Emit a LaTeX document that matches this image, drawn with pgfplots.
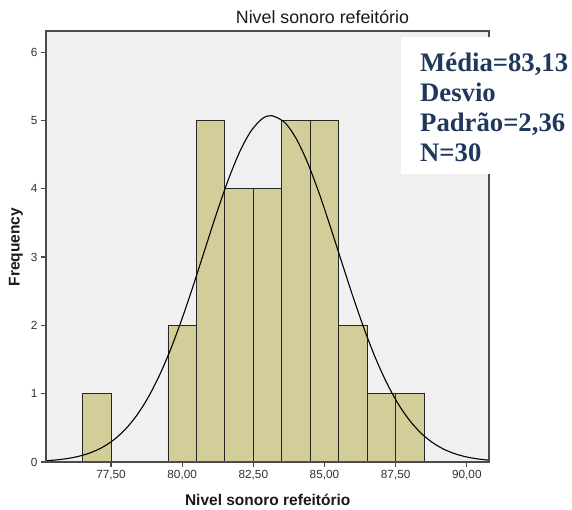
\documentclass[border=0pt]{standalone}
\usepackage{pgfplots}
\pgfplotsset{compat=1.18}
\usepackage{fontspec}
\setmainfont{Liberation Sans}
\newfontfamily\serifb{Liberation Serif}
\definecolor{barfill}{RGB}{211,206,153}
\definecolor{bg}{RGB}{240,240,240}
\definecolor{axisgray}{RGB}{75,75,75}
\definecolor{ticktext}{RGB}{50,50,50}
\definecolor{navy}{RGB}{31,56,92}
\begin{document}
\begin{tikzpicture}
\path[use as bounding box] (0,0) rectangle (572pt,510pt);
\begin{axis}[
  at={(46pt,48pt)}, anchor=south west,
  width=443pt, height=431pt, scale only axis,
  xmin=75.215, xmax=90.78, ymin=0, ymax=6.31,
  axis background/.style={fill=bg},
  axis on top,
  axis line style={axisgray, line width=1.3pt},
  xtick={77.5,80,82.5,85,87.5,90},
  ytick={0,1,2,3,4,5,6},
  tick align=outside, tick pos=left,
  major tick length=5pt,
  tick style={axisgray, line width=1.3pt},
  /pgf/number format/assume math mode=true,
  tick label style={font=\fontsize{11.8}{12}\selectfont, text=ticktext},
  xticklabel style={/pgf/number format/.cd, fixed, fixed zerofill, precision=2, use comma},
  yticklabel style={/pgf/number format/.cd, fixed, precision=0},
]
\addplot[ybar interval, fill=barfill, draw=black!85, line width=0.8pt]
  coordinates {(76.5,1)(77.5,1)};
\addplot[ybar interval, fill=barfill, draw=black!85, line width=0.8pt]
  coordinates {(79.5,2)(80.5,5)(81.5,4)(82.5,4)(83.5,5)(84.5,5)(85.5,2)(86.5,1)(87.5,1)(88.5,1)};
\addplot[black, line width=1.1pt, smooth] coordinates {
(75.2,0.01792)(75.6,0.03122)(76.0,0.05285)(76.4,0.08694)(76.8,0.13897)
(77.2,0.21582)(77.6,0.32574)(78.0,0.47763)(78.4,0.68052)(78.8,0.94225)
(79.2,1.2676)(79.6,1.6568)(80.0,2.1045)(80.4,2.5975)(80.8,3.1150)
(81.2,3.6298)(81.6,4.1101)(82.0,4.5221)(82.4,4.8344)(82.8,5.0220)
(83.13,5.0713)(83.6,4.9717)(84.0,4.7382)(84.4,4.3877)(84.8,3.9481)
(85.2,3.4519)(85.6,2.9327)(86.0,2.4209)(86.4,1.9419)(86.8,1.5135)
(87.2,1.1463)(87.6,0.84356)(88.0,0.60318)(88.4,0.41909)(88.8,0.28294)
(89.2,0.18562)(89.6,0.11832)(90.0,0.07329)(90.4,0.04411)(90.8,0.02579)};
\end{axis}
% title and labels
\node[anchor=base, inner sep=0pt, font=\fontsize{17.8}{18}\selectfont, text=black!90] at (322.5pt,486.7pt) {Nivel sonoro refeitório};
\node[anchor=base, inner sep=0pt, font=\bfseries\fontsize{15.5}{16}\selectfont, text=black!90] at (267.7pt,4pt) {Nivel sonoro refeitório};
\node[anchor=base, rotate=90, inner sep=0pt, font=\bfseries\fontsize{15.5}{16}\selectfont, text=black!90] at (19.5pt,263pt) {Frequency};
% statistics box
\fill[white] (401pt,336pt) rectangle (572pt,473.3pt);
\begin{scope}[every node/.style={anchor=base west, inner sep=0pt, text=navy, font=\serifb\bfseries\fontsize{26.7}{30}\selectfont}]
\node at (420pt,438.3pt) {Média=83,13};
\node at (420pt,408.3pt) {Desvio};
\node at (420pt,378.3pt) {Padrão=2,36};
\node at (420pt,348.3pt) {N=30};
\end{scope}
\end{tikzpicture}
\end{document}
